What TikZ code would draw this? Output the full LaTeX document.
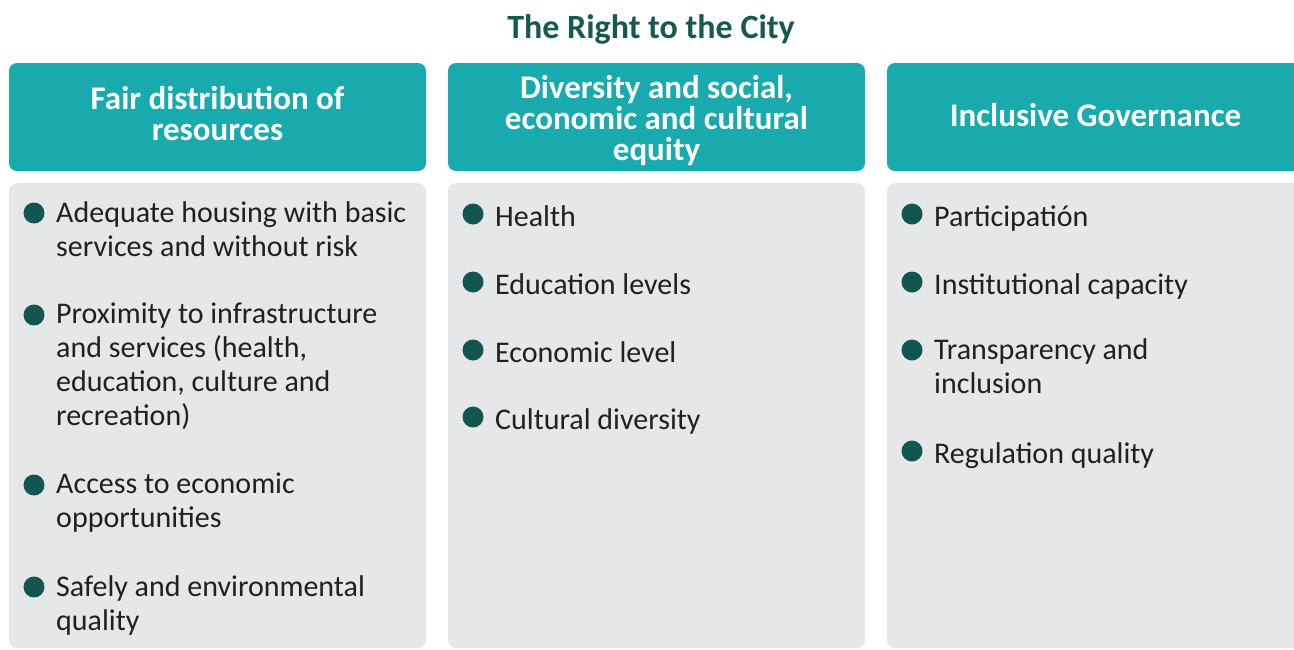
\documentclass[tikz,border=0pt]{standalone}
\usepackage{fontspec}
\setmainfont{Carlito}
\definecolor{cityteal}{HTML}{18AAAD}
\definecolor{citygreen}{HTML}{17594F}
\definecolor{citydot}{HTML}{135650}
\definecolor{citygray}{HTML}{E6E7E9}
\definecolor{citytext}{HTML}{231F20}
\tikzset{
    headbox/.style={fill=cityteal, rounded corners=8pt, minimum width=417pt, minimum height=108pt,
        inner sep=0pt},
    headtext/.style={text=white, align=center, inner sep=0pt,
        font=\fontsize{33}{31}\selectfont\bfseries},
    panel/.style={fill=citygray, rounded corners=8pt, minimum width=417pt, minimum height=465pt,
        inner sep=0pt, anchor=north},
    % strut on the first line, so north sits 0.7\baselineskip above its baseline
    item/.style={anchor=north west, align=left, inner sep=0pt, text=citytext,
        font=\fontsize{30}{34}\selectfont, execute at begin node=\strut},
    dot/.style={circle, fill=citydot, minimum size=21pt, inner sep=0pt},
}
\begin{document}
\begin{tikzpicture}[x=1pt, y=-1pt]
    \useasboundingbox (0,0) rectangle (1294,649);
    \clip (0,0) rectangle (1294,649);
    % title
    \node[text=citygreen, font=\fontsize{34}{34}\selectfont\bfseries] (title) at (651,29) {The Right to the City};
    % headers
    \node[headbox] (h1) at (217.5,117) {};
    \node[headbox] (h2) at (656.5,117) {};
    \node[headbox] (h3) at (1095.5,117) {};
    \node[headtext] (h1-text) at (217.5,114) {Fair distribution of\\resources};
    \node[headtext] (h2-text) at (656.5,121) {Diversity and social,\\economic and cultural\\equity};
    \node[headtext] (h3-text) at (1095.5,115) {Inclusive Governance};
    % panels
    \node[panel] (p1) at (217.5,183) {};
    \node[panel] (p2) at (656.5,183) {};
    \node[panel] (p3) at (1095.5,183) {};
    % first column
    \node[item] (a1) at (56,201) {Adequate housing with basic\\services and without risk};
    \node[item] (a2) at (56,303) {Proximity to infrastructure\\and services (health,\\education, culture and\\recreation)};
    \node[item] (a3) at (56,473) {Access to economic\\opportunities};
    \node[item] (a4) at (56,575) {Safely and environmental\\quality};
    % second column
    \node[item] (b1) at (495,202) {Health};
    \node[item] (b2) at (495,270) {Education levels};
    \node[item] (b3) at (495,338) {Economic level};
    \node[item] (b4) at (495,405) {Cultural diversity};
    % third column
    \node[item] (c1) at (934,202) {Participatión};
    \node[item] (c2) at (934,270) {Institutional capacity};
    \node[item] (c3) at (934,338) {Transparency and\\inclusion};
    \node[item] (c4) at (934,439) {Regulation quality};
    % bullets
    \foreach \n in {a1,a2,a3,a4,b1,b2,b3,b4,c1,c2,c3,c4}
        \node[dot] (\n-dot) at ([xshift=-22pt, yshift=-12pt]\n.north west) {};
\end{tikzpicture}
\end{document}
